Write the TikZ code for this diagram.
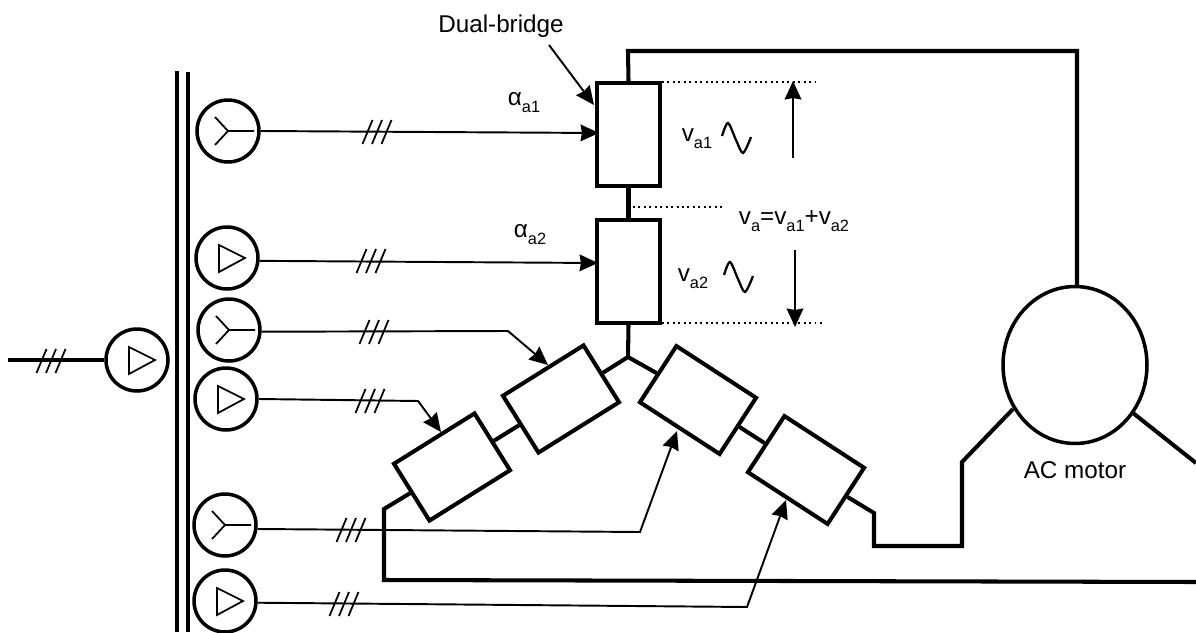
\documentclass[tikz,border=0pt]{standalone}
\usepackage{fontspec}
\setmainfont{Liberation Sans}
\usetikzlibrary{arrows.meta, positioning, calc, shapes.geometric}

\newcommand{\lowsub}[1]{\raisebox{-4pt}{\fontsize{9.3}{11}\selectfont #1}}

\tikzset{
  sig/.style={line width=1.1pt},
  pwr/.style={line width=2.3pt},
  inarrow/.style={sig, -{Stealth[length=10.5pt, width=9.5pt, inset=0.8pt]}},
  lvl/.style={line width=1.1pt, dotted},
  conv/.style={draw, pwr, rectangle, minimum width=1.26cm, minimum height=2.06cm, inner sep=0pt},
  convslant/.style={draw, pwr, rectangle, minimum width=1.9cm, minimum height=1.34cm, inner sep=0pt},
  srcnode/.style={draw, circle, line width=2pt, minimum size=1.24cm, inner sep=0pt},
  txt/.style={inner sep=0pt, font=\fontsize{13.8}{16}\selectfont},
  threeslash/.pic={
    \foreach \dx in {-9.5,0,9.5}
      \draw[line width=1pt] (\dx-5,12) -- (\dx+5,-12);
  },
  wyesym/.pic={
    \draw[line width=1pt] (-13,-14) -- (0,0) -- (-13,14) (0,0) -- (26,0);
  },
  deltasym/.pic={
    \draw[line width=1pt] (-8,-13) -- (18,0) -- (-8,14) -- cycle;
  },
  sinewave/.pic={
    \draw[line width=1.3pt] plot[smooth] coordinates {(0,0) (6,-13) (14,4) (21,17) (29,1)};
  },
}

\begin{document}
\begin{tikzpicture}[x=0.02cm, y=-0.02cm]
        \useasboundingbox (0,0) rectangle (1196,632);

        % transformer core
        \coordinate (core1a) at (177,71);
        \coordinate (core1b) at (177,632);
        \coordinate (core2a) at (188,72);
        \coordinate (core2b) at (188,632);
        \draw[line width=2.2pt] (core1a) -- (core1b);
        \draw[line width=2.2pt] (core2a) -- (core2b);

        % primary and secondaries
        \node[srcnode] (pri) at (137,360) {};
        \node[srcnode] (s1) at (228,131) {};
        \node[srcnode] (s2) at (227,258) {};
        \node[srcnode] (s3) at (229,330) {};
        \node[srcnode] (s4) at (226,399) {};
        \node[srcnode] (s5) at (225,525) {};
        \node[srcnode] (s6) at (225,601) {};

        \pic at (pri.center) {deltasym};
        \pic at (s1.center) {wyesym};
        \pic at (s2.center) {deltasym};
        \pic at (s3.center) {wyesym};
        \pic at (s4.center) {deltasym};
        \pic at (s5.center) {wyesym};
        \pic at (s6.center) {deltasym};

        \coordinate (mains) at (8,360);
        \draw[line width=2.1pt] (mains) -- (pri);
        \pic at (51,361) {threeslash};

        % converter bridges
        \node[conv] (b1) at (628.5,134.5) {};
        \node[conv] (b2) at (628.5,271.5) {};
        \node[convslant, rotate=32] (b3) at (561,399) {};
        \node[convslant, rotate=32] (b4) at (452,467) {};
        \node[convslant, rotate=-33] (b5) at (698,400) {};
        \node[convslant, rotate=-33] (b6) at (806,470) {};

        % motor
        \node[draw, ellipse, line width=2pt, minimum width=2.88cm, minimum height=3.14cm, inner sep=0pt] (motor) at (1075,365) {};
        \node[txt, below=0.32cm of motor] (motorlbl) {AC motor};

        % power wiring
        \coordinate (star) at (628,357);
        \coordinate (top1) at (628,51);
        \coordinate (top2) at (1077,51);
        \coordinate (c1) at (384,509);
        \coordinate (c2) at (384,580);
        \coordinate (c3) at (1196,582);
        \coordinate (d1) at (874,513);
        \coordinate (d2) at (874,546);
        \coordinate (d3) at (962,546);
        \coordinate (d4) at (962,462);
        \coordinate (mleft) at (1013,409);
        \coordinate (mright) at (1133,413);
        \coordinate (e1) at (1196,463);
        \draw[pwr] (b1.north) -- (top1) -- (top2) -- (motor.north -| top2);
        \draw[pwr] (b1.south) -- (b2.north);
        \draw[pwr] (b2.south) -- (star);
        \draw[pwr] (b3.east) -- (star) -- (b5.west);
        \draw[pwr] (b3.west) -- (b4.east);
        \draw[pwr] (b5.east) -- (b6.west);
        \draw[pwr] (b4.west) -- (c1) -- (c2) -- (c3);
        \draw[pwr] (b6.east) -- (d1) -- (d2) -- (d3) -- (d4) -- (mleft);
        \draw[pwr] (mright) -- (e1);

        % firing signals
        \coordinate (in1) at (599,133);
        \coordinate (in2) at (598,263);
        \coordinate (k3) at (508,331);
        \coordinate (in3) at (548,365);
        \coordinate (k4) at (418,401);
        \coordinate (in4) at (441,432);
        \coordinate (k5) at (640,532);
        \coordinate (in5) at (677,431);
        \coordinate (k6) at (747,607);
        \coordinate (in6) at (786,500);
        \draw[inarrow] (s1.east) -- (in1);
        \draw[inarrow] (s2.-5) -- (in2);
        \draw[inarrow] (s3.-3) -- (k3) -- (in3);
        \draw[inarrow] (s4.east) -- (k4) -- (in4);
        \draw[inarrow] (s5.-7) -- (k5) -- (in5);
        \draw[inarrow] (s6.-3) -- (k6) -- (in6);
        \pic at (377,132) {threeslash};
        \pic at (371,261) {threeslash};
        \pic at (374,332) {threeslash};
        \pic at (370,401) {threeslash};
        \pic at (351,530) {threeslash};
        \pic at (344,604) {threeslash};

        % labels
        \node[txt] (dual) at (501,26) {Dual-bridge};
        \coordinate (dualfrom) at (549,45);
        \coordinate (dualto) at (594,105);
        \draw[inarrow] (dualfrom) -- (dualto);
        \node[txt] (aa1) at (524,103) {α\lowsub{a1}};
        \node[txt] (aa2) at (530,235) {α\lowsub{a2}};
        \node[txt] (va1) at (697,139) {v\lowsub{a1}};
        \node[txt] (va2) at (693,279) {v\lowsub{a2}};
        \node[txt] (vsum) at (794,221) {v\lowsub{a}=v\lowsub{a1}+v\lowsub{a2}};
        \pic at (722,136) {sinewave};
        \pic at (724,275) {sinewave};

        % voltage span
        \coordinate (l1a) at (662,82);
        \coordinate (l1b) at (819,82);
        \coordinate (l2a) at (633,207);
        \coordinate (l2b) at (722,207);
        \coordinate (l3a) at (662,323);
        \coordinate (l3b) at (825,323);
        \draw[lvl] (l1a) -- (l1b);
        \draw[lvl] (l2a) -- (l2b);
        \draw[lvl] (l3a) -- (l3b);
        \coordinate (up1) at (793,158);
        \coordinate (up2) at (793,81);
        \coordinate (dn1) at (795,250);
        \coordinate (dn2) at (795,327);
        \draw[inarrow] (up1) -- (up2);
        \draw[inarrow] (dn1) -- (dn2);
\end{tikzpicture}
\end{document}
